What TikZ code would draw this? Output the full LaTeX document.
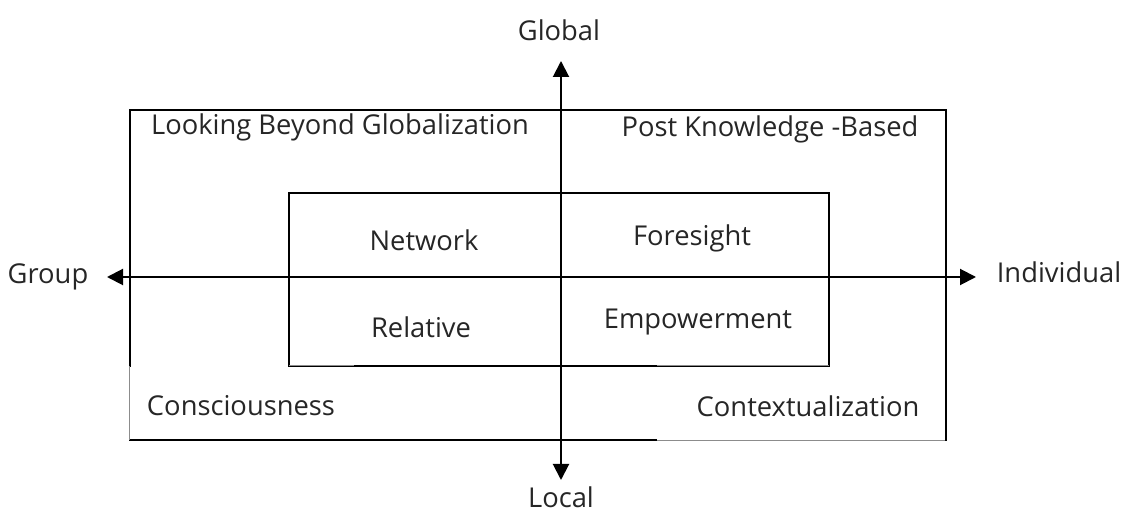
\documentclass[tikz,border=0pt]{standalone}
\usepackage{fontspec}
\setmainfont{Open Sans}
\usetikzlibrary{arrows.meta}
\begin{document}
\begin{tikzpicture}[x=0.75pt,y=-0.75pt,
  frame/.style={line width=1.5pt,black},
  thin/.style={line width=0.75pt,black!45},
  axis/.style={line width=1.5pt,black,-{Triangle[length=12pt,width=12pt]}},
  lbl/.style={font=\fontsize{20.5}{23}\selectfont,text=black!85,inner sep=0pt}]
\useasboundingbox (0,0) rectangle (1122,516);
% outer and inner frames
\draw[frame] (130,110) rectangle (946,440);
\draw[frame] (289,193) rectangle (829,366);
% white text boxes overlapping the frames
\fill[white] (129.5,367) rectangle (354,439);
\fill[white] (657,367) rectangle (945,441.5);
\draw[thin] (129.5,366) -- (129.5,440);
\draw[thin] (289,366) -- (354,366);
\draw[thin] (657,366) -- (829,366);
\draw[thin] (657,441) -- (945,441);
% axes
\coordinate (c) at (561,277);
\coordinate (top) at (561,61);
\coordinate (bot) at (561,480);
\coordinate (lft) at (107,277);
\coordinate (rgt) at (976,277);
\draw[axis] (c) -- (top);
\draw[axis] (c) -- (bot);
\draw[axis] (c) -- (lft);
\draw[axis] (c) -- (rgt);
% labels
\node[lbl] (global) at (559,30) {Global};
\node[lbl] (local) at (561,497) {Local};
\node[lbl] (group) at (48,277) {Group};
\node[lbl] (indiv) at (1059,272) {Individual};
\node[lbl] (lbg) at (340,127) {Looking Beyond Globalization};
\node[lbl] (pkb) at (770,129) {Post Knowledge -Based};
\node[lbl] (net) at (424,240) {Network};
\node[lbl] (fore) at (692,238) {Foresight};
\node[lbl] (rel) at (421,327) {Relative};
\node[lbl] (emp) at (698,322) {Empowerment};
\node[lbl] (cons) at (241,406) {Consciousness};
\node[lbl] (ctx) at (808,406) {Contextualization};
\end{tikzpicture}
\end{document}
